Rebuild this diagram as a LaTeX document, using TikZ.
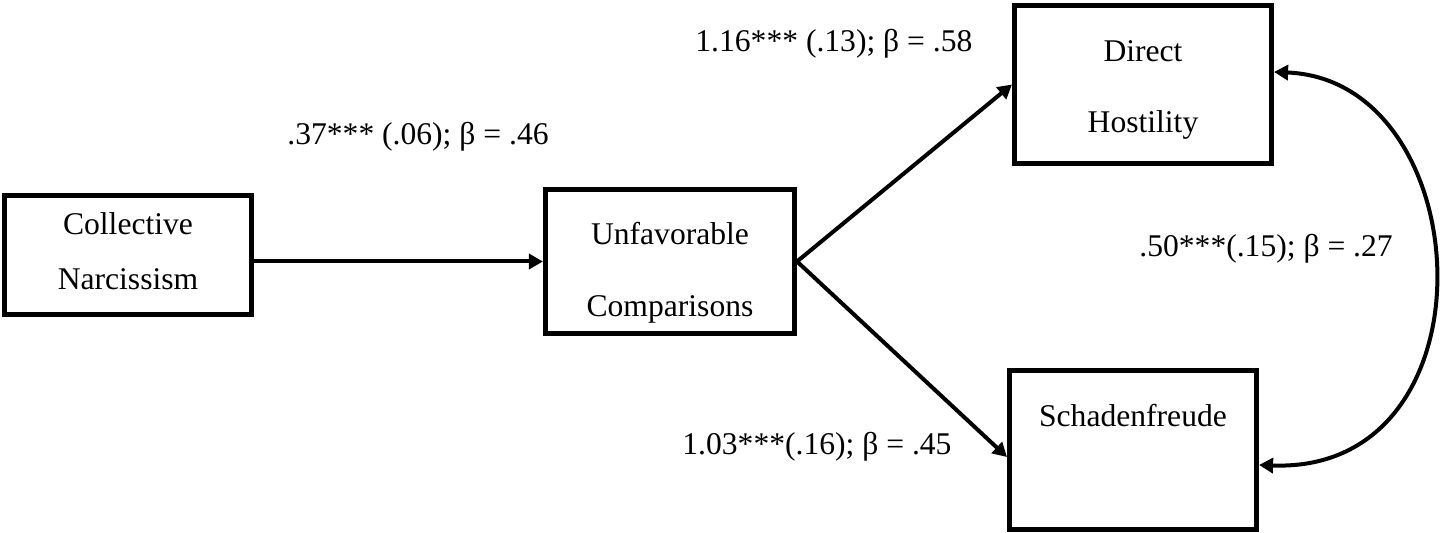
\documentclass[tikz,border=0pt]{standalone}
\usepackage{fontspec}
\setmainfont{Liberation Serif}
\usetikzlibrary{arrows.meta}
\begin{document}
\begin{tikzpicture}[x=0.5pt,y=-0.5pt,
  box/.style={draw, line width=2.3pt, rectangle, inner sep=0pt, align=center,
    font=\fontsize{15.8}{19}\selectfont, text height=11pt},
  lbl/.style={inner sep=0pt, anchor=base west, font=\fontsize{15.8}{19}\selectfont},
  tip/.style={Triangle[length=7pt,width=7.5pt]},
  arr/.style={line width=2pt, -{Triangle[length=7pt,width=7.5pt]}},
  darr/.style={line width=2pt, {Triangle[length=7pt,width=7.5pt]}-{Triangle[length=7pt,width=7.5pt]}}]
\useasboundingbox (0,0) rectangle (1441,533);

\node[box, minimum width=123.75pt, minimum height=59.75pt, text depth=31pt] (cn) at (128,255)
  {\begin{tabular}[t]{@{}c@{}}Collective\\[8.5pt]Narcissism\end{tabular}};
\node[box, minimum width=124.75pt, minimum height=72.25pt, text depth=27.5pt] (uc) at (670,261.5)
  {\begin{tabular}[t]{@{}c@{}}Unfavorable\\[17pt]Comparisons\end{tabular}};
\node[box, minimum width=128.75pt, minimum height=79.25pt, text depth=33.5pt] (dh) at (1143,84.5)
  {\begin{tabular}[t]{@{}c@{}}Direct\\[16.5pt]Hostility\end{tabular}};
\node[box, minimum width=123.75pt, minimum height=79.75pt, text depth=34pt] (sf) at (1133,450)
  {Schadenfreude};

\node[lbl] (l1) at (695,52) {1.16*** (.13); β = .58};
\node[lbl] (l2) at (287,145) {.37*** (.06); β = .46};
\node[lbl] (l3) at (682,455) {1.03***(.16); β = .45};
\node[lbl] (l4) at (1139,257) {.50***(.15); β = .27};

\draw[arr] (cn.east |- uc.west) -- (uc.west);
\draw[arr] (uc.east) -- (dh.west);
\draw[arr] (uc.east) -- ([yshift=-3.5pt]sf.west);
\draw[darr] ([yshift=6.25pt]dh.east) .. controls (1480,80) and (1500,474) .. ([yshift=-7.5pt]sf.east);
\end{tikzpicture}
\end{document}
